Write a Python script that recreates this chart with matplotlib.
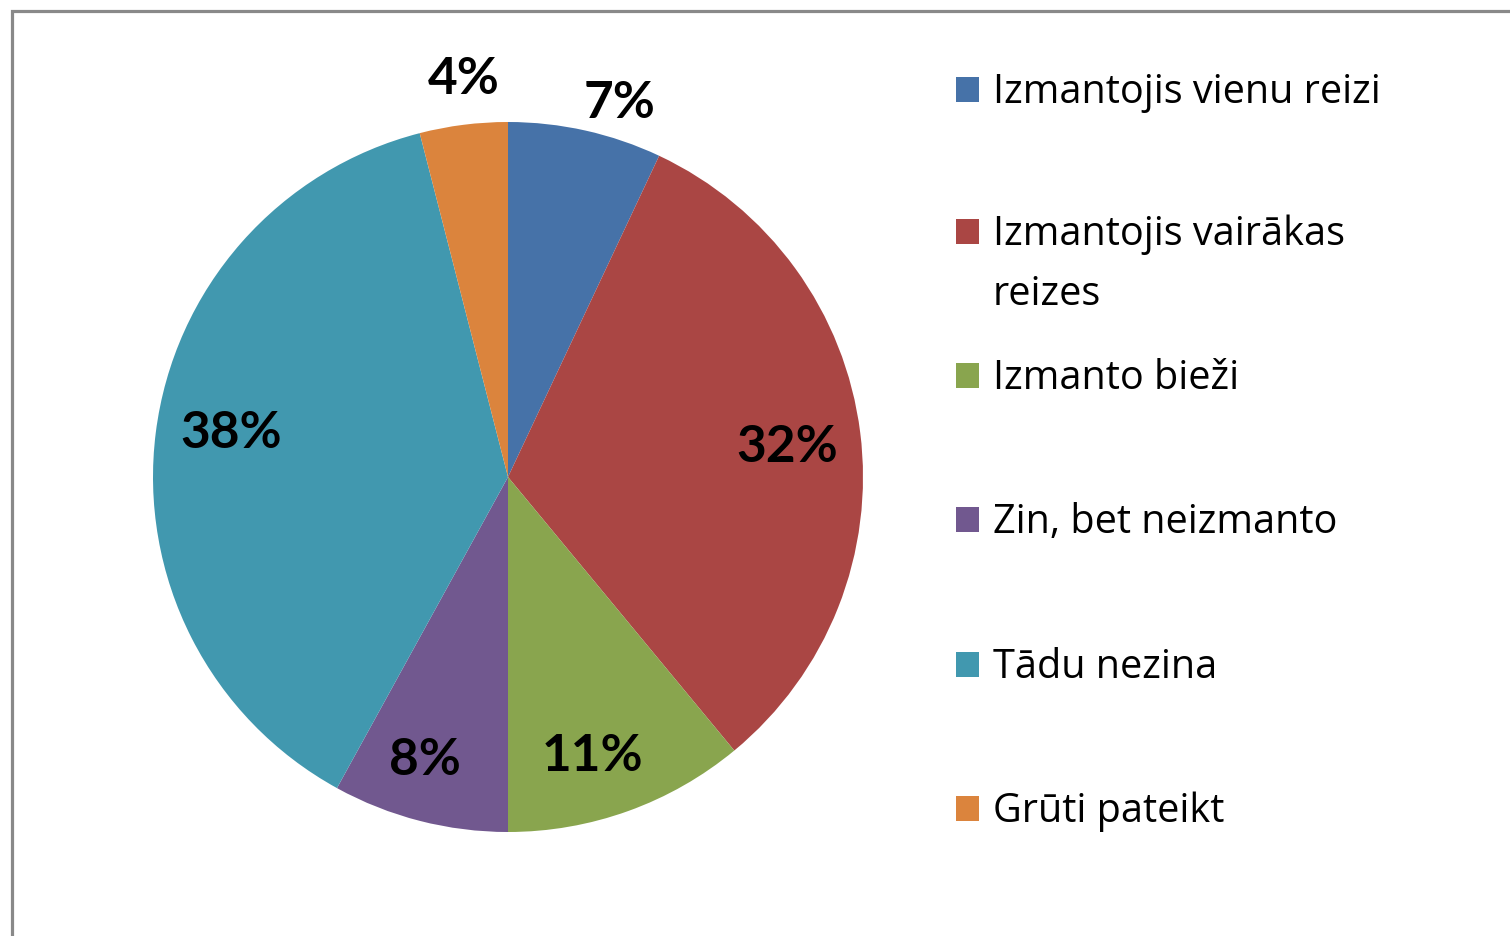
import matplotlib
matplotlib.use("Agg")
import matplotlib.pyplot as plt
from matplotlib.patches import Rectangle
import numpy as np

categories = ["Izmantojis vienu reizi", "Izmantojis vairākas\nreizes", "Izmanto bieži",
              "Zin, bet neizmanto", "Tādu nezina", "Grūti pateikt"]
values = [7, 32, 11, 8, 38, 4]
colors = ["#4672A8", "#AA4644", "#89A54E", "#71588F", "#4198AF", "#DB843D"]
label_dist = [1.10, 0.79, 0.82, 0.83, 0.79, 1.13]
label_shift = [-4, -1, -3, -2, -2, -0.8]  # degrees

W, H = 1510, 937
fig = plt.figure(figsize=(W / 100, H / 100), dpi=100)
ax = fig.add_axes([0, 0, 1, 1])

cx, cy, R = 508, H - 478, 355
wedges, _ = ax.pie(values, colors=colors, startangle=90, counterclock=False,
                   center=(cx, cy), radius=R, frame=True,
                   wedgeprops=dict(linewidth=0))
ax.set_xlim(0, W)
ax.set_ylim(0, H)
ax.set_aspect("equal")
ax.axis("off")

for w, v, d, s in zip(wedges, values, label_dist, label_shift):
    ang = np.deg2rad((w.theta1 + w.theta2) / 2 + s)
    ax.text(cx + d * R * np.cos(ang), cy + d * R * np.sin(ang), f"{v}%",
            ha="center", va="center", fontsize=37, fontweight="bold",
            family="Lato", color="black")

# legend drawn manually
baselines = [103, 245, 389, 533, 678, 822]
line_gap = 60
for lab, col, b in zip(categories, colors, baselines):
    fig.patches.append(Rectangle((956 / W, (H - b) / H), 23 / W, 25 / H,
                                 transform=fig.transFigure, facecolor=col,
                                 edgecolor="none"))
    for k, line in enumerate(lab.split("\n")):
        fig.text(993 / W, (H - b - k * line_gap) / H, line, ha="left",
                 va="baseline", fontsize=28.5, family="Open Sans", color="black")

# outer frame (top and left visible)
fig.patches.append(Rectangle((11.5 / W, -0.1), 1.2, (H - 11.5) / H + 0.1,
                             transform=fig.transFigure, facecolor="none",
                             edgecolor="#898989", linewidth=2.3))

fig.savefig("out.png", dpi=100)
